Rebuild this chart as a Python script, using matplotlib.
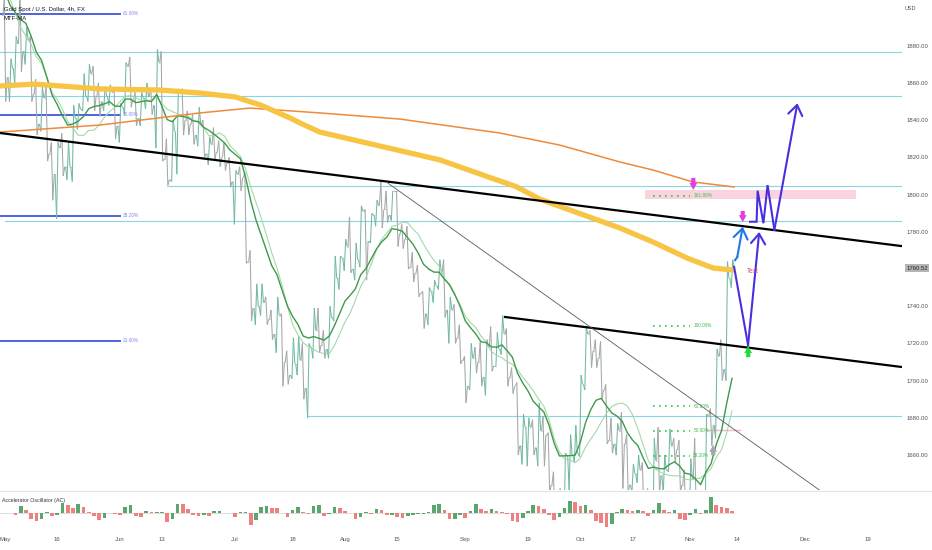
import numpy as np
import pandas as pd
import matplotlib
matplotlib.use('Agg')
import matplotlib.pyplot as plt
from matplotlib.collections import LineCollection
from matplotlib.patches import Rectangle

plt.rcParams['font.family'] = ['Liberation Sans', 'DejaVu Sans']

# ---- data: daily bars of XAUUSD, first bar 2022-05-02, x = trading-day index ----
start_date = '2022-05-02'
first_open = 1896
warmup_closes = [1979, 1950, 1958, 1951, 1931, 1898, 1905, 1886, 1894, 1896]

highs = [1905, 1873, 1885, 1910, 1890, 1885, 1862, 1858, 1858, 1828,
         1828, 1833, 1828, 1848, 1849, 1865, 1870, 1869, 1860, 1858,
         1859, 1856, 1849, 1871, 1874, 1855, 1855, 1860, 1857, 1878,
         1877, 1830, 1840, 1857, 1857, 1845, 1843, 1847, 1840, 1831,
         1836, 1829, 1828, 1820, 1813, 1815, 1812, 1770, 1752, 1752,
         1745, 1738, 1745, 1736, 1716, 1723, 1724, 1720, 1720, 1739,
         1739, 1727, 1740, 1767, 1767, 1776, 1788, 1774, 1794, 1792,
         1790, 1797, 1807, 1802, 1802, 1801, 1784, 1783, 1769, 1762,
         1748, 1750, 1754, 1765, 1765, 1745, 1741, 1730, 1713, 1720,
         1718, 1721, 1722, 1729, 1726, 1735, 1728, 1707, 1699, 1682,
         1680, 1679, 1688, 1681, 1672, 1651, 1642, 1661, 1671, 1676,
         1703, 1729, 1727, 1722, 1721, 1698, 1680, 1677, 1683, 1671,
         1655, 1660, 1656, 1642, 1669, 1675, 1660, 1674, 1669, 1668,
         1652, 1658, 1669, 1640, 1682, 1685, 1717, 1722, 1764, 1765]

lows = [1850, 1850, 1860, 1866, 1870, 1850, 1832, 1834, 1818, 1797,
        1787, 1810, 1808, 1807, 1835, 1845, 1850, 1845, 1842, 1845,
        1848, 1830, 1828, 1843, 1847, 1837, 1837, 1846, 1843, 1825,
        1818, 1805, 1807, 1811, 1832, 1832, 1827, 1826, 1820, 1816,
        1819, 1815, 1813, 1804, 1784, 1802, 1763, 1732, 1730, 1735,
        1730, 1722, 1715, 1697, 1698, 1701, 1703, 1690, 1680, 1712,
        1715, 1712, 1712, 1732, 1749, 1759, 1758, 1754, 1761, 1754,
        1774, 1783, 1782, 1785, 1786, 1772, 1771, 1760, 1753, 1745,
        1728, 1730, 1742, 1749, 1734, 1720, 1720, 1709, 1688, 1695,
        1704, 1697, 1692, 1705, 1708, 1714, 1697, 1693, 1660, 1655,
        1654, 1660, 1654, 1654, 1639, 1622, 1620, 1615, 1641, 1656,
        1659, 1695, 1707, 1707, 1690, 1666, 1661, 1660, 1642, 1640,
        1640, 1645, 1628, 1621, 1617, 1639, 1640, 1651, 1656, 1640,
        1630, 1630, 1631, 1616, 1628, 1665, 1669, 1700, 1700, 1750]

closes = [1863, 1868, 1881, 1877, 1883, 1854, 1838, 1852, 1822, 1811,
          1825, 1815, 1815, 1841, 1846, 1853, 1865, 1853, 1850, 1853,
          1855, 1837, 1847, 1869, 1851, 1841, 1852, 1853, 1848, 1871,
          1819, 1808, 1834, 1857, 1840, 1838, 1832, 1838, 1822, 1827,
          1823, 1820, 1817, 1807, 1811, 1809, 1764, 1739, 1740, 1742,
          1733, 1725, 1735, 1710, 1703, 1709, 1711, 1696, 1718, 1727,
          1719, 1717, 1734, 1755, 1766, 1772, 1760, 1765, 1791, 1775,
          1789, 1794, 1792, 1789, 1802, 1779, 1776, 1761, 1758, 1747,
          1736, 1748, 1751, 1758, 1738, 1738, 1723, 1711, 1697, 1712,
          1710, 1702, 1718, 1708, 1717, 1725, 1702, 1697, 1665, 1675,
          1675, 1664, 1673, 1671, 1644, 1622, 1629, 1660, 1660, 1661,
          1698, 1725, 1716, 1712, 1695, 1668, 1666, 1673, 1666, 1644,
          1650, 1652, 1629, 1627, 1657, 1649, 1652, 1665, 1663, 1644,
          1633, 1647, 1636, 1630, 1681, 1676, 1713, 1706, 1755, 1760.52]

# long multi-timeframe moving averages (bar index, price)
ma_yellow_x = [-0.96, 5.7, 18.2, 29.6, 37.3, 44.0, 48.8, 54.5, 56.4, 60.2, 71.7,
               83.2, 92.7, 97.8, 102.3, 108.0, 117.6, 123.9, 130.4, 135.4, 139.4]
ma_yellow_y = [1858.4, 1859.4, 1856.8, 1856.2, 1854.6, 1852.5, 1848.2, 1841.2, 1838.5,
               1833.6, 1826.1, 1818.6, 1809.2, 1804.2, 1797.5, 1791.7, 1782.0, 1774.5,
               1765.9, 1760.5, 1759.4]
ma_orange_x = [-0.96, 18.2, 37.3, 46.8, 60.2, 75.5, 94.6, 106.1, 117.6, 123.9, 131.5, 139.4]
ma_orange_y = [1833.6, 1837.4, 1843.9, 1846.5, 1843.9, 1840.6, 1833.1, 1826.6, 1817.5,
               1813.2, 1806.8, 1804.1]

# horizontal levels (price, starting bar)
h_levels = [1876.6, 1853.0, 1804.6, 1785.8, 1681.0]
h_starts = [-0.96, -0.96, 31.0, 0.0, 58.0]

# fib tools
fib_left_lo, fib_left_hi = 1612.7, 2072.9
fib_left_levels = [0.236, 0.382, 0.5, 0.618]
fib_right_lo, fib_right_hi = 1616.4, 1729.5
fib_right_levels = [0.382, 0.5, 0.618, 1.0, 1.618]

# trend lines (bar, price)
trend_upper = ([-0.96, 171.5], [1833.1, 1772.3])
trend_lower = ([95.6, 171.5], [1734.2, 1707.3])
trend_thin = ([73.2, 157.0], [1806.2, 1638.6])

# drawn projection paths (bar, price)
blue_path = ([139.6, 140.0], [1764.8, 1766.4])
blue_tip = (141.05, 1782.7)
purple_v = ([139.4, 142.07], [1761.1, 1719.1])
purple_v_tip = (144.2, 1779.9)
purple_zz = ([142.45, 143.7, 143.9, 145.0, 145.8, 147.1], [1785.4, 1785.4, 1802.1, 1784.6, 1805.1, 1781.0])
purple_zz_tip = (151.5, 1849.1)

pink_zone = (122.4, 162.7, 1797.6, 1802.5)
last_price = 1760.52

tick_dates = ['2022-05-02', '2022-05-16', '2022-06-01', '2022-06-13', '2022-07-01', '2022-07-18',
              '2022-08-01', '2022-08-15', '2022-09-01', '2022-09-19', '2022-10-03', '2022-10-17',
              '2022-11-01', '2022-11-14', '2022-12-01', '2022-12-19']
tick_labels = ['May', '16', 'Jun', '13', 'Jul', '18', 'Aug', '15', 'Sep', '19', 'Oct', '17',
               'Nov', '14', 'Dec', '19']

# ---- derived ----
n = len(closes)
idx = np.arange(n)
opens = np.r_[first_open, closes[:-1]]
c = np.array(closes, float)
h = np.maximum.reduce([np.array(highs, float), opens, c])
l = np.minimum.reduce([np.array(lows, float), opens, c])

all_close = pd.Series(warmup_closes + list(closes))
ema10 = all_close.ewm(span=10, adjust=False).mean().values[len(warmup_closes):]
sma10 = all_close.rolling(10).mean().values[len(warmup_closes):]

# accelerator oscillator; 5/34 bars of 4h is roughly 1/6 days, so use short windows on daily bars
hl2 = pd.Series((h + l) / 2)
ao = hl2.rolling(2, min_periods=1).mean() - hl2.rolling(6, min_periods=1).mean()
ac = (ao - ao.rolling(2, min_periods=1).mean()).values

XMIN, XMAX = -0.956, 171.5
YMIN, YMAX = 1641.2, 1904.6

fig = plt.figure(figsize=(9.32, 5.5), dpi=100)
ax = fig.add_axes([0, 1 - 490 / 550, 902 / 932, 490 / 550])
ax2 = fig.add_axes([0, 1 - 533 / 550, 902 / 932, 41 / 550])

# price as a zigzag through each day's open/extremes/close
segs, cols = [], []
up_col, dn_col = '#72b8a3', '#a2a7a7'
prev = None
for i in idx:
    if c[i] >= opens[i]:
        pts = [(i - 0.42, opens[i]), (i - 0.14, l[i]), (i + 0.14, h[i]), (i + 0.42, c[i])]
        col = up_col
    else:
        pts = [(i - 0.42, opens[i]), (i - 0.14, h[i]), (i + 0.14, l[i]), (i + 0.42, c[i])]
        col = dn_col
    if prev is not None:
        segs.append([prev, pts[0]])
        cols.append(col)
    for a, b in zip(pts[:-1], pts[1:]):
        segs.append([a, b])
        cols.append(col)
    prev = pts[-1]
ax.add_collection(LineCollection(segs, colors=cols, linewidths=0.75, zorder=2))

# horizontal rays
for lev, st in zip(h_levels, h_starts):
    ax.plot([st, XMAX], [lev, lev], color='#86d6e4', lw=0.8, zorder=1)

# left fib
for f in fib_left_levels:
    p = fib_left_lo + f * (fib_left_hi - fib_left_lo)
    ax.plot([XMIN, 22.0], [p, p], color='#4f63d9', lw=1.4, zorder=1.5)
    ax.text(22.6, p, f'{f * 100:.2f}%', fontsize=3.4, color='#858cec', va='center', zorder=6)

# pink zone
ax.add_patch(Rectangle((pink_zone[0], pink_zone[2]), pink_zone[1] - pink_zone[0],
                       pink_zone[3] - pink_zone[2], facecolor='#f9d4df', edgecolor='none', zorder=0.5))
ax.plot([134.2, 140.5], [1673.3, 1673.3], color='#f5b7c6', lw=1.0, zorder=1)

# right fib (dotted)
for f in fib_right_levels:
    p = fib_right_lo + f * (fib_right_hi - fib_right_lo)
    ax.plot([123.9, 131.0], [p, p], color='#2ec840', lw=1.2, ls=(0, (1, 2.6)), zorder=2.5)
    ax.text(131.6, p, f'{f * 100:.2f}%', fontsize=3.4, color='#3ebf4c', va='center', zorder=6)

# moving averages
ax.plot(idx, sma10, color='#a3d9ab', lw=0.8, zorder=3)
ax.plot(idx, ema10, color='#3f9a4b', lw=1.0, zorder=3.1)
ax.plot(ma_orange_x, ma_orange_y, color='#ee8a3c', lw=1.1, zorder=3.2)
ax.plot(ma_yellow_x, ma_yellow_y, color='#f8c444', lw=3.8, zorder=3.3, solid_capstyle='butt')

# trend lines
ax.plot(*trend_upper, color='black', lw=1.6, zorder=4)
ax.plot(*trend_lower, color='black', lw=1.6, zorder=4)
ax.plot(*trend_thin, color='#5a5a5a', lw=0.6, zorder=4)

# projection paths
def path_arrow(xs, ys, tip, color):
    ax.plot(xs, ys, color=color, lw=1.5, zorder=5, solid_joinstyle='miter')
    ax.annotate('', xy=tip, xytext=(xs[-1], ys[-1]),
                arrowprops=dict(arrowstyle='->,head_length=0.45,head_width=0.32', color=color,
                                lw=1.5, shrinkA=0, shrinkB=0, mutation_scale=16), zorder=5)

path_arrow(*blue_path, blue_tip, '#1f78e6')
path_arrow(*purple_v, purple_v_tip, '#4b2ee0')
path_arrow(*purple_zz, purple_zz_tip, '#4b2ee0')

# arrow marks
def mark(x, tip, length, color):
    ax.annotate('', xy=(x, tip), xytext=(x, tip + length),
                arrowprops=dict(arrowstyle='simple,head_length=0.5,head_width=0.55,tail_width=0.3',
                                fc=color, ec='none', shrinkA=0, shrinkB=0, mutation_scale=10), zorder=6)

mark(131.6, 1802.5, 6.5, '#e23ee6')
mark(141.05, 1785.2, 6.0, '#e23ee6')
mark(142.1, 1718.6, -6.0, '#1edc3c')
mark(135.4, 1665.4, -5.5, '#a6a6a6')

ax.text(143.0, 1758.5, 'Text', fontsize=4.7, color='#e0457b', ha='center', va='center', zorder=6)

ax.set_xlim(XMIN, XMAX)
ax.set_ylim(YMIN, YMAX)
ax.set_xticks([])
ax.yaxis.tick_right()
ax.set_yticks(np.arange(1660, 1881, 20))
ax.set_yticklabels([f'{v:.2f}' for v in np.arange(1660, 1881, 20)])
ax.tick_params(axis='y', length=0, pad=3, labelsize=4.3, labelcolor='#50535e')
for s in ax.spines.values():
    s.set_visible(False)

ax.annotate(f'{last_price:.2f}', xy=(1.0, last_price), xycoords=('axes fraction', 'data'),
            xytext=(3, 0), textcoords='offset points', fontsize=4.3, color='#222222', va='center',
            bbox=dict(boxstyle='square,pad=0.25', fc='#b5b5b5', ec='none'), zorder=7,
            annotation_clip=False)

# oscillator
ac_up = np.r_[True, np.diff(ac) >= 0]
ax2.bar(idx, ac, width=0.7, color=np.where(ac_up, '#5aa66e', '#ef8080'), linewidth=0)
ax2.plot([XMIN, idx[-1] + 0.4], [0, 0], color='#d0d0d0', lw=0.5, zorder=0)
m = np.abs(ac).max()
ax2.set_ylim(-m * 1.35, m * 1.35)
ax2.set_xlim(XMIN, XMAX)
ax2.set_yticks([])
tick_pos = np.busday_count(start_date, tick_dates)
ax2.set_xticks(tick_pos)
ax2.set_xticklabels(tick_labels)
ax2.tick_params(axis='x', length=0, pad=3, labelsize=4.3, labelcolor='#50535e')
for s in ax2.spines.values():
    s.set_visible(False)
ax2.text(0.002, 0.8, 'Accelerator Oscillator (AC)', transform=ax2.transAxes,
         fontsize=3.8, color='#333333', va='center')

fig.add_artist(plt.Line2D([0, 1], [1 - 491 / 550] * 2, color='#e0e3eb', lw=0.8))
fig.text(4 / 932, 1 - 9 / 550, 'Gold Spot / U.S. Dollar, 4h, FX', fontsize=4.3, color='#131722', va='center')
fig.text(4 / 932, 1 - 18 / 550, 'MTF-MA', fontsize=4.3, color='#131722', va='center')
fig.text(905 / 932, 1 - 9 / 550, 'USD', fontsize=4.0, color='#50535e', va='center')

fig.savefig('out.png', dpi=100, facecolor='white')
